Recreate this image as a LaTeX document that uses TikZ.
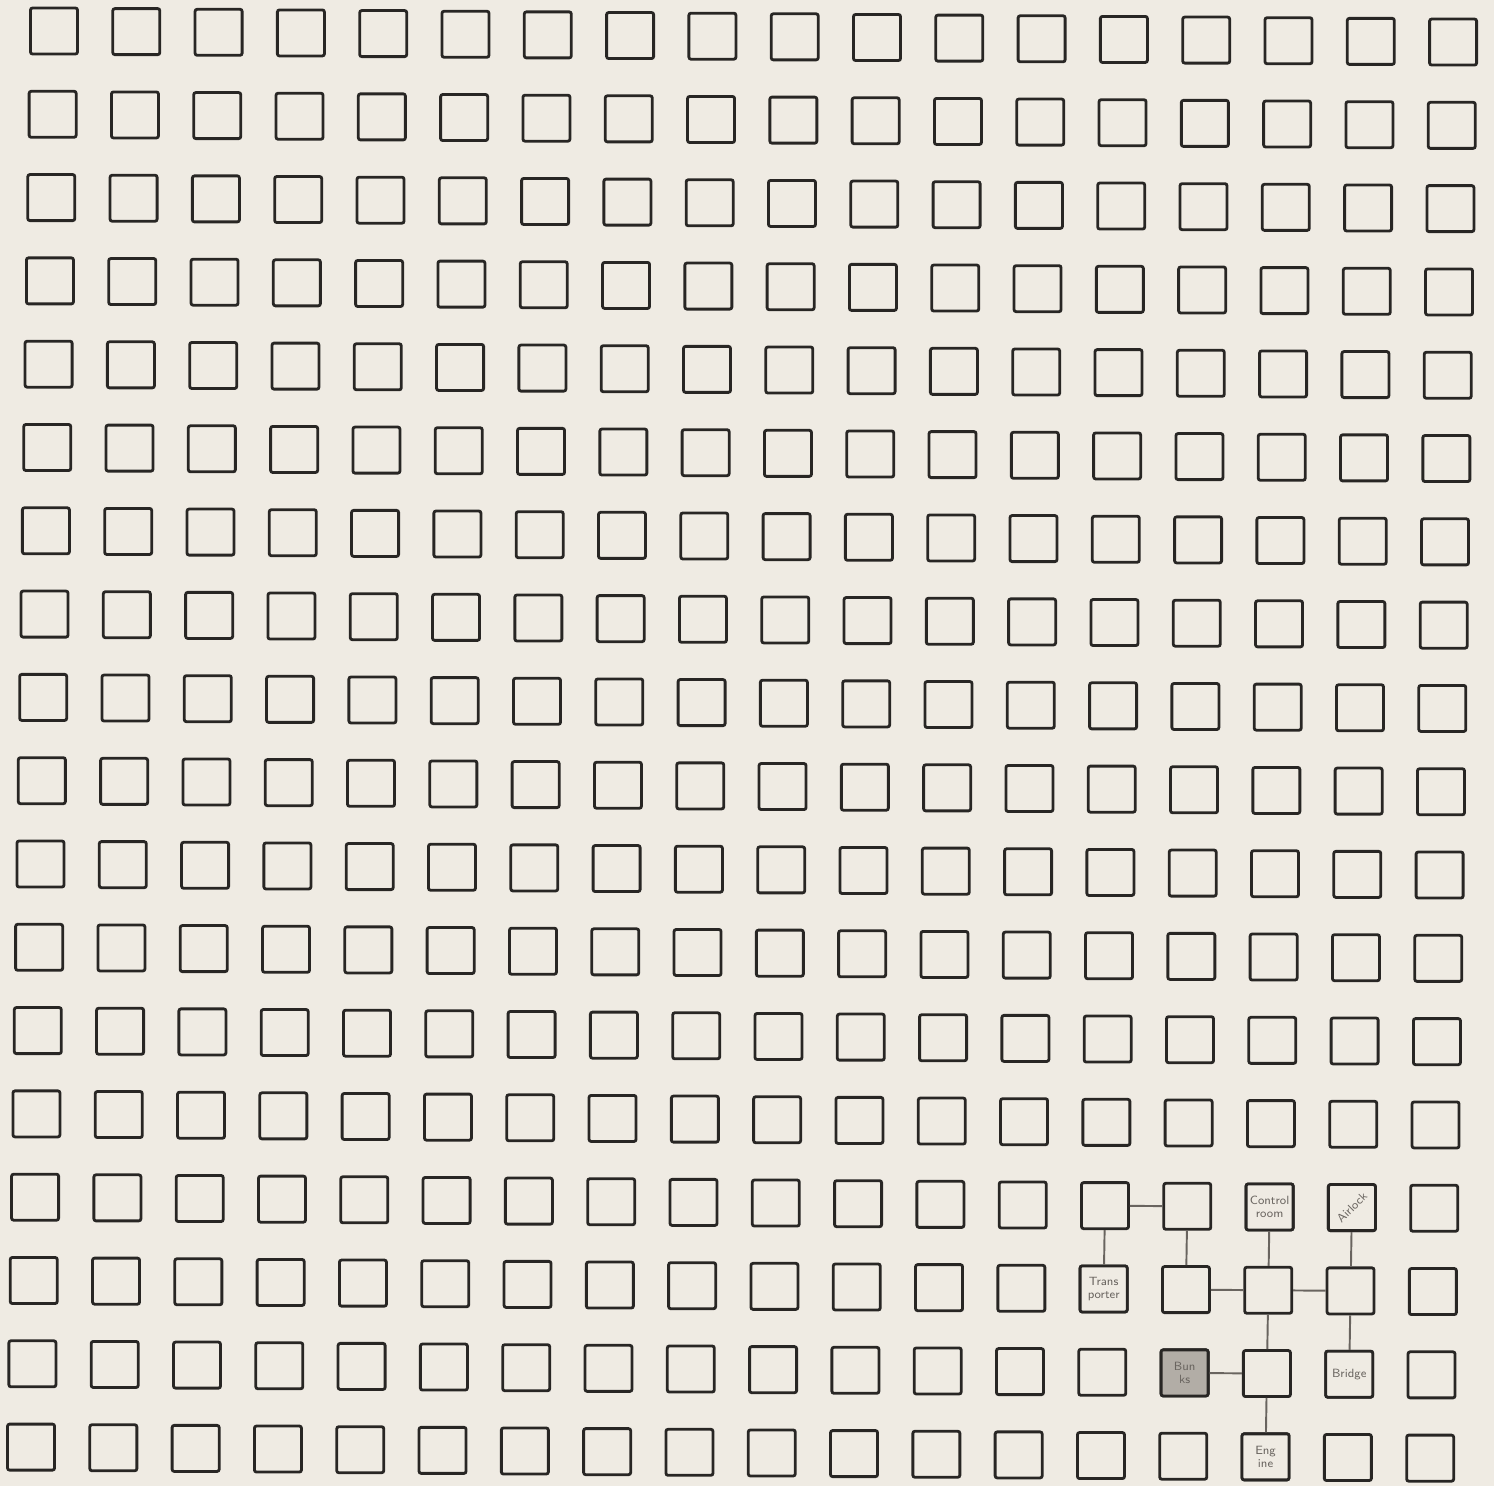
\documentclass[tikz,border=0pt]{standalone}
\usepackage{tikz}
\definecolor{paperBg}{RGB}{239,235,227}
\definecolor{cellInk}{RGB}{40,38,36}
\definecolor{pencilInk}{RGB}{105,100,95}
\definecolor{shadeFill}{RGB}{178,173,166}

\begin{document}
\begin{tikzpicture}[
  x=0.01cm, y=-0.01cm,
  cell/.style={draw=cellInk, fill=paperBg, line width=0.8pt, rounded corners=0.6pt,
               minimum width=0.47cm, minimum height=0.46cm, inner sep=0pt,
               align=center, text=pencilInk,
               font=\sffamily\fontsize{3.4}{3.8}\selectfont},
  link/.style={draw=pencilInk, line width=0.55pt}
]

\fill[paperBg] (0,0) rectangle (1494,1486);
\useasboundingbox (0,0) rectangle (1494,1486);

% the sheet of empty rooms, 18 x 18
\foreach \c in {0,...,17}{
  \foreach \r in {0,...,17}{
    \node[cell] (c\c-\r) at ({54+82.3*\c-1.35*\r},{31+83.3*\r+0.65*\c}) {};
  }
}

% rooms with names
\node[cell] (trans) at (c13-15) {Trans\\porter};
\node[cell] (control) at (c15-14) {Control\\room};
\node[cell] (airlock) at (c16-14) {\rotatebox{45}{Airlock}};
\node[cell, fill=shadeFill] (bunks) at (c14-16) {Bun\\ks};
\node[cell] (bridge) at (c16-16) {Bridge};
\node[cell] (engine) at (c15-17) {Eng\\ine};

% corridors
\draw[link] (c13-14) -- (c14-14);
\draw[link] (c13-14) -- (trans);
\draw[link] (c14-14) -- (c14-15);
\draw[link] (control) -- (c15-15);
\draw[link] (airlock) -- (c16-15);
\draw[link] (c14-15) -- (c15-15);
\draw[link] (c15-15) -- (c16-15);
\draw[link] (c15-15) -- (c15-16);
\draw[link] (c16-15) -- (bridge);
\draw[link] (bunks) -- (c15-16);
\draw[link] (c15-16) -- (engine);

\end{tikzpicture}
\end{document}
